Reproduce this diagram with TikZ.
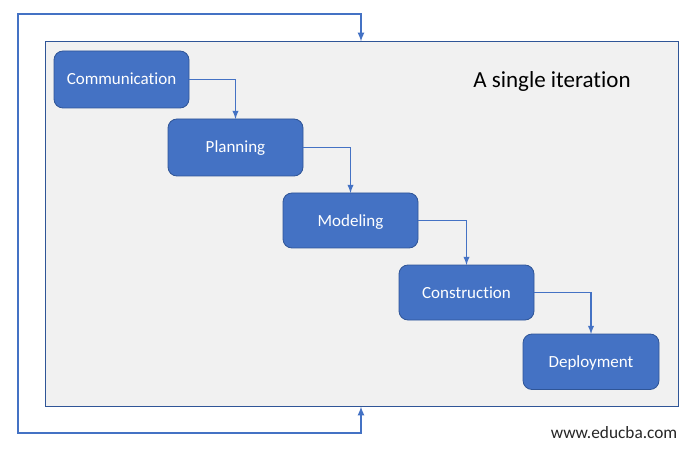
\documentclass[tikz,border=0pt]{standalone}
\usepackage{fontspec}
\setmainfont{Carlito}[Ligatures=NoCommon]
\usetikzlibrary{positioning}
\definecolor{stagefill}{HTML}{4472C4}
\definecolor{stageline}{HTML}{2F5597}
\definecolor{framefill}{HTML}{F1F1F1}
\tikzset{
  stage/.style={draw=stageline, fill=stagefill, rounded corners=9pt, line width=0.8pt,
    text=white, font=\fontsize{17}{20}\selectfont, inner sep=0pt, outer sep=0pt,
    text height=11pt, text depth=0pt, minimum width=135pt, minimum height=57pt},
  flow/.style={draw=stagefill, line width=1.8pt, >=latex},
  loopflow/.style={flow, line width=2pt}
}
\begin{document}
\begin{tikzpicture}[x=1pt, y=-1pt]
      \useasboundingbox (0,0) rectangle (698,462);
      % Define nodes
      \node[draw=stageline, fill=framefill, line width=1pt, minimum width=633pt, minimum height=365pt,
        inner sep=0pt, outer sep=0pt, anchor=north west] (frame) at (45.5,41.5) {};
      \node[stage, anchor=north west] (comm) at (54,51) {Communication};
      \node[stage, below right=11pt and -21pt of comm]  (plan) {Planning};
      \node[stage, below right=17pt and -20pt of plan, minimum height=55pt]  (model) {Modeling};
      \node[stage, below right=17pt and -19pt of model, minimum height=55pt]  (constr) {Construction};
      \node[stage, below right=14pt and -11pt of constr, minimum height=55.5pt, minimum width=136pt] (deploy) {Deployment};
      \node[font=\fontsize{23}{27}\selectfont] (title) at (552,81) {A single iteration};
      \node[font=\fontsize{17.3}{20}\selectfont, text=black!85, anchor=east, inner sep=0pt] (site) at (677.5,432.5) {www.educba.com};
      \coordinate (looptop) at (18,14);
      \coordinate (loopbot) at (18,433);
      % Connect nodes
      \draw[flow, ->] (comm.east) -| (plan.north);
      \draw[flow, ->] (plan.east) -| (model.north);
      \draw[flow, ->] (model.east) -| (constr.north);
      \draw[flow, ->] (constr.east) -| (deploy.north);
      \draw[loopflow, <->] ([xshift=-1pt]frame.north) |- (looptop) -- (loopbot) -| ([xshift=-1pt]frame.south);
    \end{tikzpicture}
\end{document}
